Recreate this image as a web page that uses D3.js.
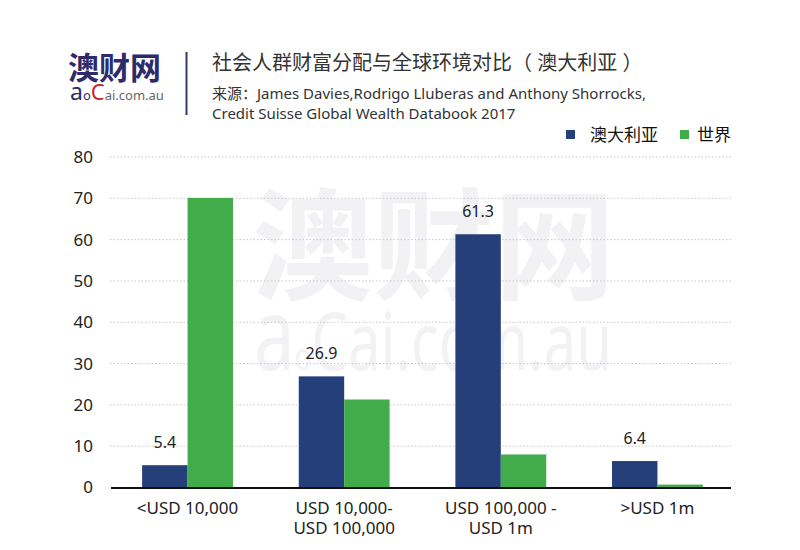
<!DOCTYPE html>
<html><head><meta charset="utf-8">
<script src="https://cdn.jsdelivr.net/npm/d3@7"></script>
<style>
body{margin:0;background:#fff;}
text{font-family:"Noto Sans","Noto Sans CJK SC",sans-serif;}
</style></head>
<body><svg id="c" width="800" height="550"></svg>
<script>
const categories = [["<USD 10,000"], ["USD 10,000-", "USD 100,000"], ["USD 100,000 -", "USD 1m"], [">USD 1m"]];
const seriesNames = ["澳大利亚", "世界"];
const australia = [5.4, 26.9, 61.3, 6.4];
const world = [70.1, 21.3, 8.0, 0.7];
const yTicks = [0, 10, 20, 30, 40, 50, 60, 70, 80];
const title = "社会人群财富分配与全球环境对比（ 澳大利亚 ）";
const sourceLines = ["来源：James Davies,Rodrigo Lluberas and Anthony Shorrocks,", "Credit Suisse Global Wealth Databook 2017"];

const colors = ["#243f7a", "#41ac4a"];
const svg = d3.select("#c");
svg.append("rect").attr("width", 800).attr("height", 550).attr("fill", "#fff");

// watermark
svg.append("text").attr("x", 252).attr("y", 290).attr("font-size", 121).attr("font-weight", "bold")
  .attr("fill", "#f2f2f4").attr("font-family", "Noto Sans CJK SC").text("澳财网");
const wm = svg.append("text").attr("x", 254).attr("y", 370).attr("fill", "#f2f2f4").attr("font-size", 80)
  .attr("textLength", 358).attr("lengthAdjust", "spacingAndGlyphs");
wm.append("tspan").attr("font-size", 100).text("a");
wm.append("tspan").attr("font-size", 38).text("o");
wm.append("tspan").attr("font-size", 80).text("Cai.com.au");

const x0 = d3.scaleBand().domain(d3.range(categories.length)).range([113, 732]).paddingInner(0.42).paddingOuter(0.186);
const x1 = d3.scaleBand().domain(d3.range(2)).range([0, x0.bandwidth()]);
const y = d3.scaleLinear().domain([0, 80]).range([487.5, 157]);

// grid
const grid = svg.append("g");
grid.selectAll("line").data(yTicks.filter(d => d > 0)).join("line")
  .attr("x1", 110).attr("x2", 731).attr("y1", d => y(d)).attr("y2", d => y(d))
  .attr("stroke", "#c8c8c8").attr("stroke-width", 1).attr("stroke-dasharray", "1.5,2");

// y axis labels
const yAxis = d3.axisLeft(y).tickValues(yTicks).tickSize(0).tickPadding(0);
const ya = svg.append("g").attr("transform", "translate(93,0)").call(yAxis);
ya.select(".domain").remove();
ya.selectAll("text").attr("font-size", 17).attr("fill", "#222").attr("font-family", "Noto Sans");

// bars
const data = [australia, world];
const g = svg.append("g");
data.forEach((vals, si) => {
  g.selectAll(".b" + si).data(vals).join("rect").attr("class", "b" + si)
    .attr("x", (d, i) => x0(i) + x1(si))
    .attr("width", x1.bandwidth())
    .attr("y", d => y(d))
    .attr("height", d => y(0) - y(d))
    .attr("fill", colors[si]);
});
// value labels (Australia only)
svg.selectAll(".vl").data(australia).join("text").attr("class", "vl")
  .attr("x", (d, i) => x0(i) + x1(0) + x1.bandwidth() / 2)
  .attr("y", d => y(d) - 17)
  .attr("text-anchor", "middle").attr("font-size", 16).attr("fill", "#222")
  .text(d => d.toFixed(1));

// baseline
svg.append("line").attr("x1", 111).attr("x2", 731).attr("y1", y(0) + 0.5).attr("y2", y(0) + 0.5)
  .attr("stroke", "#111").attr("stroke-width", 1.8);

// category labels
categories.forEach((lines, i) => {
  const t = svg.append("text").attr("x", x0(i) + x0.bandwidth() / 2).attr("y", 514)
    .attr("text-anchor", "middle").attr("font-size", 17).attr("fill", "#222");
  lines.forEach((l, j) => t.append("tspan").attr("x", x0(i) + x0.bandwidth() / 2).attr("dy", j ? 20 : 0).text(l));
});

// legend
const lg = [[566, 590], [680, 697]];
seriesNames.forEach((n, i) => {
  svg.append("rect").attr("x", lg[i][0]).attr("y", 130).attr("width", 9).attr("height", 9).attr("fill", colors[i]);
  svg.append("text").attr("x", lg[i][1]).attr("y", 141).attr("font-size", 17).attr("fill", "#111")
    .attr("font-family", "Noto Sans CJK SC").text(n);
});

// header logo
svg.append("text").attr("x", 68).attr("y", 79).attr("font-size", 31).attr("font-weight", "bold")
  .attr("fill", "#2e2b6b").attr("font-family", "Noto Sans CJK SC").text("澳财网");
const lt = svg.append("text").attr("x", 70).attr("y", 100);
lt.append("tspan").attr("font-size", 23).attr("fill", "#2e2b6b").text("a");
lt.append("tspan").attr("font-size", 13).attr("fill", "#2e2b6b").text("o");
lt.append("tspan").attr("font-size", 22).attr("fill", "#c8262b").text("C");
lt.append("tspan").attr("font-size", 13).attr("fill", "#666").text("ai.com.au");
svg.append("line").attr("x1", 186.5).attr("x2", 186.5).attr("y1", 52).attr("y2", 115)
  .attr("stroke", "#2e3a6e").attr("stroke-width", 2);

// title
svg.append("text").attr("x", 212).attr("y", 70).attr("font-size", 20).attr("fill", "#333")
  .attr("font-family", "Noto Sans CJK SC").text(title);
sourceLines.forEach((l, i) => {
  svg.append("text").attr("x", 212).attr("y", 99 + i * 20).attr("font-size", 15).attr("fill", "#333").text(l);
});
</script></body></html>
